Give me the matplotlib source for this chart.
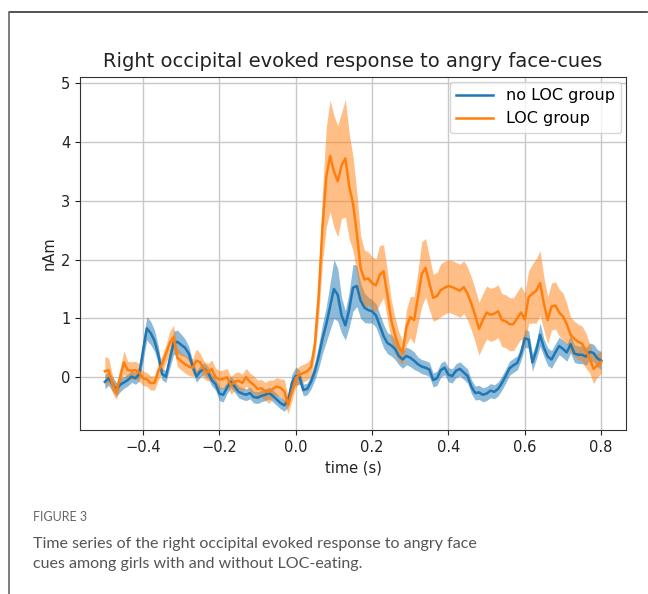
import numpy as np
import matplotlib
matplotlib.use("Agg")
import matplotlib.pyplot as plt
from matplotlib.lines import Line2D

# time axis (s), one sample every 10 ms
t = np.round(np.arange(-0.50, 0.805, 0.01), 2)

# mean evoked response (nAm)
no_loc = [-0.08, -0.02, -0.12, -0.21, -0.13, -0.09, -0.05, 0.01, -0.02, 0.05,
          0.45, 0.83, 0.75, 0.62, 0.38, 0.05, 0.01, 0.30, 0.58, 0.60,
          0.55, 0.50, 0.40, 0.18, 0.01, 0.10, 0.14, 0.08, -0.05, -0.12,
          -0.28, -0.30, -0.18, -0.08, -0.16, -0.25, -0.28, -0.30, -0.27, -0.34,
          -0.35, -0.32, -0.30, -0.27, -0.32, -0.38, -0.44, -0.48, -0.40, -0.10,
          0.02, 0.00, -0.22, -0.20, -0.08, 0.10, 0.35, 0.65, 0.90, 1.20,
          1.50, 1.40, 1.05, 0.88, 1.15, 1.52, 1.55, 1.30, 1.18, 1.14,
          1.12, 1.05, 0.88, 0.70, 0.58, 0.54, 0.48, 0.36, 0.30, 0.36,
          0.33, 0.28, 0.22, 0.18, 0.16, 0.13, -0.05, -0.02, 0.12, 0.16,
          0.04, 0.02, 0.11, 0.14, 0.08, 0.02, -0.16, -0.27, -0.26, -0.30,
          -0.28, -0.23, -0.25, -0.20, -0.10, 0.02, 0.15, 0.20, 0.24, 0.40,
          0.66, 0.64, 0.25, 0.45, 0.72, 0.50, 0.35, 0.30, 0.42, 0.53,
          0.48, 0.42, 0.56, 0.40, 0.38, 0.38, 0.35, 0.43, 0.41, 0.32,
          0.28]
loc = [0.10, 0.12, -0.12, -0.26, 0.00, 0.25, 0.12, 0.11, 0.12, 0.08,
       -0.02, -0.04, -0.10, -0.10, 0.10, 0.22, 0.40, 0.58, 0.68, 0.33,
       0.27, 0.22, 0.18, 0.16, 0.28, 0.25, 0.12, 0.08, 0.14, 0.00,
       -0.04, -0.03, 0.00, -0.14, -0.08, -0.06, -0.10, 0.00, -0.08, -0.13,
       -0.20, -0.19, -0.24, -0.25, -0.20, -0.16, -0.18, -0.24, -0.47, -0.25,
       -0.02, 0.04, 0.07, 0.10, 0.17, 0.55, 1.37, 2.55, 3.40, 3.76,
       3.50, 3.33, 3.60, 3.72, 3.25, 2.95, 2.45, 1.85, 1.66, 1.68,
       1.60, 1.56, 1.74, 1.80, 1.40, 0.97, 0.72, 0.52, 0.42, 0.85,
       1.02, 0.97, 1.35, 1.75, 1.86, 1.60, 1.35, 1.38, 1.48, 1.52,
       1.55, 1.53, 1.50, 1.47, 1.53, 1.42, 1.25, 1.05, 0.82, 0.97,
       1.10, 1.06, 1.08, 1.12, 0.97, 0.95, 0.90, 0.90, 1.00, 1.10,
       0.98, 1.36, 1.42, 1.47, 1.60, 1.25, 0.97, 1.20, 1.22, 1.10,
       1.03, 0.90, 0.72, 0.65, 0.60, 0.57, 0.45, 0.32, 0.14, 0.20,
       0.26]

# half-width of the shaded error band
no_loc_err = [0.12, 0.12, 0.12, 0.12, 0.12, 0.10, 0.10, 0.10, 0.10, 0.12,
              0.18, 0.20, 0.20, 0.18, 0.15, 0.10, 0.10, 0.15, 0.20, 0.20,
              0.18, 0.15, 0.12, 0.10, 0.10, 0.10, 0.10, 0.10, 0.10, 0.10,
              0.12, 0.12, 0.10, 0.10, 0.10, 0.10, 0.10, 0.10, 0.10, 0.10,
              0.10, 0.10, 0.10, 0.10, 0.10, 0.10, 0.10, 0.10, 0.10, 0.15,
              0.15, 0.12, 0.10, 0.10, 0.12, 0.15, 0.20, 0.25, 0.30, 0.40,
              0.50, 0.45, 0.30, 0.25, 0.30, 0.40, 0.35, 0.30, 0.25, 0.22,
              0.20, 0.20, 0.20, 0.20, 0.18, 0.18, 0.18, 0.15, 0.15, 0.15,
              0.15, 0.15, 0.12, 0.12, 0.12, 0.12, 0.12, 0.12, 0.12, 0.12,
              0.12, 0.12, 0.12, 0.12, 0.12, 0.12, 0.12, 0.12, 0.12, 0.12,
              0.12, 0.12, 0.12, 0.12, 0.12, 0.12, 0.12, 0.12, 0.12, 0.12,
              0.15, 0.15, 0.15, 0.15, 0.20, 0.15, 0.15, 0.15, 0.15, 0.15,
              0.15, 0.15, 0.15, 0.15, 0.15, 0.15, 0.15, 0.15, 0.15, 0.15,
              0.15]
loc_err = [0.25, 0.20, 0.15, 0.12, 0.15, 0.20, 0.15, 0.15, 0.15, 0.15,
           0.12, 0.12, 0.12, 0.12, 0.15, 0.15, 0.15, 0.20, 0.20, 0.15,
           0.15, 0.15, 0.15, 0.15, 0.20, 0.15, 0.15, 0.15, 0.15, 0.15,
           0.15, 0.15, 0.15, 0.15, 0.15, 0.15, 0.15, 0.15, 0.15, 0.15,
           0.15, 0.15, 0.15, 0.20, 0.15, 0.15, 0.15, 0.20, 0.15, 0.15,
           0.15, 0.15, 0.15, 0.15, 0.15, 0.20, 0.35, 0.60, 0.85, 0.95,
           0.95, 0.95, 0.90, 1.00, 0.90, 0.80, 0.70, 0.55, 0.50, 0.45,
           0.45, 0.45, 0.50, 0.45, 0.40, 0.35, 0.30, 0.25, 0.20, 0.30,
           0.35, 0.40, 0.45, 0.55, 0.50, 0.45, 0.40, 0.40, 0.45, 0.45,
           0.45, 0.45, 0.45, 0.45, 0.45, 0.45, 0.45, 0.45, 0.45, 0.45,
           0.45, 0.45, 0.45, 0.45, 0.45, 0.45, 0.45, 0.45, 0.45, 0.45,
           0.45, 0.45, 0.50, 0.55, 0.55, 0.45, 0.40, 0.40, 0.40, 0.40,
           0.40, 0.35, 0.30, 0.30, 0.30, 0.30, 0.30, 0.25, 0.25, 0.20,
           0.20]

labels = ["no LOC group", "LOC group"]
title = "Right occipital evoked response to angry face-cues"
caption_head = "FIGURE 3"
caption = ("Time series of the right occipital evoked response to angry face\n"
           "cues among girls with and without LOC-eating.")

fig = plt.figure(figsize=(6.48, 5.94), dpi=100)
ax = fig.add_axes([0.1235, 0.276, 0.8425, 0.594])

for mean, err, lab, col in [(no_loc, no_loc_err, labels[0], "tab:blue"),
                            (loc, loc_err, labels[1], "tab:orange")]:
    mean = np.array(mean)
    err = np.array(err)
    ax.plot(t, mean, color=col, lw=1.8, label=lab)
    ax.fill_between(t, mean - err, mean + err, color=col, alpha=0.5, lw=0)

ax.set_xlim(-0.565, 0.865)
ax.set_ylim(-0.9, 5.1)
ax.set_xticks([-0.4, -0.2, 0.0, 0.2, 0.4, 0.6, 0.8])
ax.set_yticks([0, 1, 2, 3, 4, 5])
ax.grid(True, color="#c8c8c8", lw=1)
ax.set_axisbelow(True)
ax.tick_params(labelsize=10.5, colors="#222222")
for s in ax.spines.values():
    s.set_color("#333333")
ax.set_title(title, fontsize=14, color="#222222", pad=7)
ax.set_xlabel("time (s)", fontsize=10.5, color="#222222", labelpad=4)
ax.set_ylabel("nAm", fontsize=10.5, color="#222222", labelpad=3)
ax.legend(loc="upper right", fontsize=11.5, framealpha=0.8, handlelength=2.3,
          borderaxespad=0.3)

# frame around the figure panel
fig.add_artist(Line2D([10/648, 647/648], [1 - 12/594, 1 - 12/594], color="#333333", lw=1.2))
fig.add_artist(Line2D([9/648, 9/648], [0, 1 - 12/594], color="#666666", lw=1.2))

fig.text(33/648, 1 - 517/594, caption_head, fontsize=9, color="#666666",
         family="Lato", va="center")
fig.text(33/648, 1 - 554/594, caption, fontsize=11.5, color="#555555",
         family="Lato", va="center", linespacing=1.55)

fig.savefig("out.png", dpi=100)
